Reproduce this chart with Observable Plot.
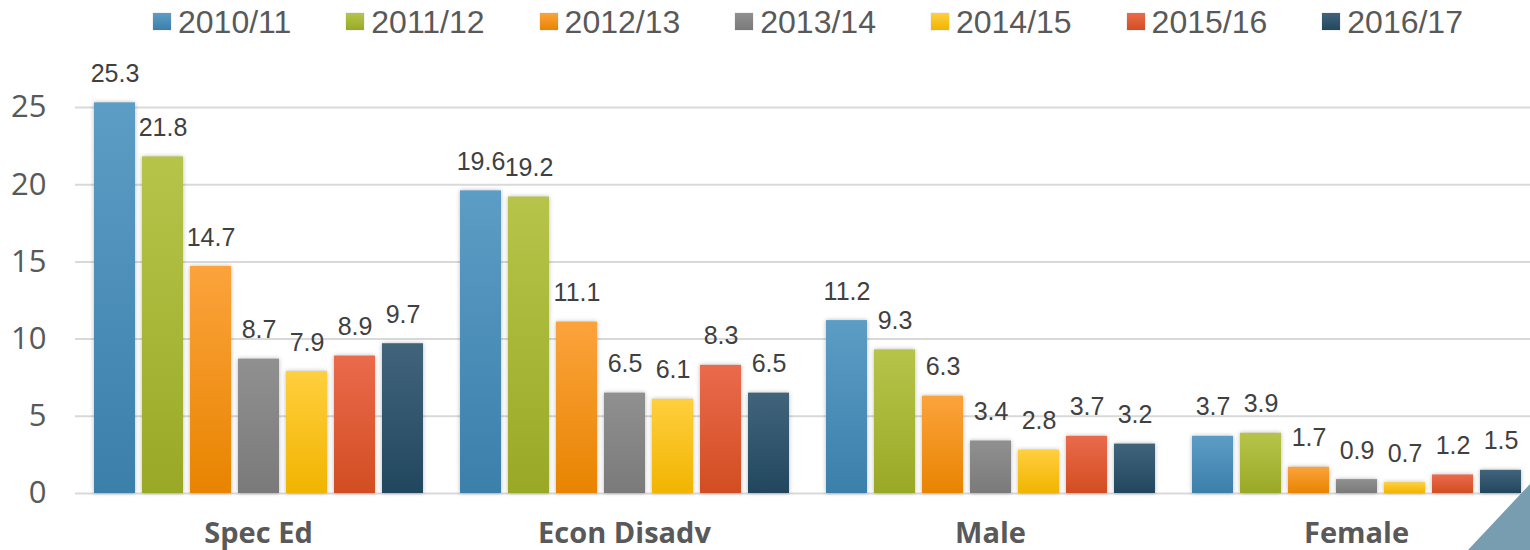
<!DOCTYPE html>
<html>
<head>
<meta charset="utf-8">
<script src="https://cdn.jsdelivr.net/npm/d3@7"></script>
<script src="https://cdn.jsdelivr.net/npm/@observablehq/plot@0.6"></script>
<style>
  html, body { margin: 0; padding: 0; background: #fff; overflow: hidden; }
  #wrap { position: relative; width: 1530px; height: 550px; overflow: hidden; background: #fff; }
  #chart { position: absolute; left: 0; top: 0; }
  #legend { position: absolute; left: 153px; top: 6px; display: flex; gap: 55px;
    font-family: "Liberation Sans", Arial, sans-serif; font-size: 32px; line-height: 32px; color: #595959; }
  #legend .item { display: flex; align-items: flex-start; }
  #legend .sw { width: 18px; height: 17px; margin-top: 7px; margin-right: 7px; box-shadow: 0 0 1px rgba(0,0,0,0.3); }
  #deco { position: absolute; right: 0; bottom: 0; width: 62px; height: 66px; background: #789cb0;
    clip-path: polygon(100% 0, 100% 100%, 0 100%); }
  svg g[aria-label="bar"] rect { filter: drop-shadow(0 0 2px rgba(0,0,0,0.28)); }
</style>
</head>
<body>
<div id="wrap">
  <div id="chart"></div>
  <div id="legend"></div>
  <div id="deco"></div>
</div>
<script>
const groups = ["Spec Ed", "Econ Disadv", "Male", "Female"];
const series = ["2010/11", "2011/12", "2012/13", "2013/14", "2014/15", "2015/16", "2016/17"];
const specEd = [25.3, 21.8, 14.7, 8.7, 7.9, 8.9, 9.7];
const econDisadv = [19.6, 19.2, 11.1, 6.5, 6.1, 8.3, 6.5];
const male = [11.2, 9.3, 6.3, 3.4, 2.8, 3.7, 3.2];
const female = [3.7, 3.9, 1.7, 0.9, 0.7, 1.2, 1.5];
const yTicks = [0, 5, 10, 15, 20, 25];
const colorTop = ["#5c9dc5", "#b6c54a", "#fba33c", "#909090", "#ffcf3e", "#ea6a4c", "#41647b"];
const colorBottom = ["#3b7fab", "#99a926", "#e88400", "#7a7a7a", "#f1b400", "#d24d21", "#21475e"];

const valuesByGroup = [specEd, econDisadv, male, female];
const data = [];
groups.forEach((g, gi) => series.forEach((s, si) => data.push({group: g, series: s, value: valuesByGroup[gi][si]})));

function gradientDefs() {
  const ns = "http://www.w3.org/2000/svg";
  const defs = document.createElementNS(ns, "defs");
  series.forEach((s, i) => {
    const lg = document.createElementNS(ns, "linearGradient");
    lg.setAttribute("id", "grad" + i);
    lg.setAttribute("x1", "0"); lg.setAttribute("y1", "0");
    lg.setAttribute("x2", "0"); lg.setAttribute("y2", "1");
    [[0, colorTop[i]], [1, colorBottom[i]]].forEach(([o, c]) => {
      const st = document.createElementNS(ns, "stop");
      st.setAttribute("offset", o);
      st.setAttribute("stop-color", c);
      lg.appendChild(st);
    });
    defs.appendChild(lg);
  });
  return defs;
}

const chart = Plot.plot({
  width: 1539,
  height: 550,
  marginLeft: 75,
  marginRight: 0,
  marginTop: 107,
  marginBottom: 57,
  facet: {marginTop: 0, marginBottom: 0, marginLeft: 0, marginRight: 0},
  style: {fontFamily: "'Liberation Sans', Arial, sans-serif", maxWidth: "none", overflow: "visible", background: "transparent"},
  fx: {domain: groups, paddingInner: 0, paddingOuter: 0},
  x: {domain: series, paddingInner: 0.146, paddingOuter: 0.385, axis: null},
  y: {domain: [0, 25], axis: null},
  color: {type: "ordinal", domain: series, range: series.map((s, i) => `url(#grad${i})`)},
  marks: [
    gradientDefs,
    Plot.ruleY(yTicks, {stroke: "#d9d9d9", strokeWidth: 2}),
    Plot.barY(data, {fx: "group", x: "series", y: "value", fill: "series"}),
    Plot.text(data, {fx: "group", x: "series", y: "value", text: d => d.value.toFixed(1),
      lineAnchor: "bottom", dy: -21, fontSize: 25, fill: "#404040"}),
    Plot.axisY({ticks: yTicks, tickSize: 0, tickPadding: 29, fontSize: 31,
      fontFamily: "'Open Sans', sans-serif", color: "#595959", label: null}),
    Plot.axisFx({anchor: "bottom", tickSize: 0, tickPadding: 29, fontSize: 29, fontWeight: "bold",
      fontFamily: "'Open Sans', sans-serif", color: "#595959", label: null})
  ]
});
document.getElementById("chart").appendChild(chart);

const legend = document.getElementById("legend");
series.forEach((s, i) => {
  const item = document.createElement("div");
  item.className = "item";
  const sw = document.createElement("div");
  sw.className = "sw";
  sw.style.background = `linear-gradient(${colorTop[i]}, ${colorBottom[i]})`;
  const t = document.createElement("span");
  t.textContent = s;
  item.appendChild(sw);
  item.appendChild(t);
  legend.appendChild(item);
});
</script>
</body>
</html>
